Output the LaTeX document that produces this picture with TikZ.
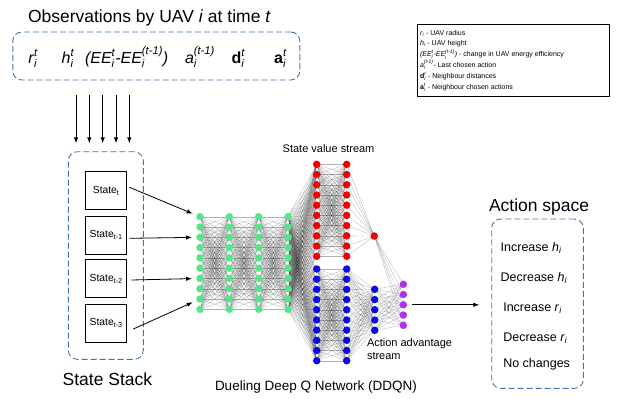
\documentclass[tikz,border=0pt]{standalone}
\usepackage{amsmath}
\usepackage{fontspec}
\setmainfont{Liberation Sans}
\usetikzlibrary{arrows.meta,backgrounds}
\definecolor{ngreen}{RGB}{85,230,140}
\definecolor{nred}{RGB}{240,0,0}
\definecolor{nblue}{RGB}{10,10,230}
\definecolor{npurple}{RGB}{170,50,240}
\definecolor{boxblue}{RGB}{70,115,170}
\newcommand{\SupSub}[2]{\ensuremath{^{\text{\itshape #1}}_{\text{\itshape #2}}}}
\newcommand{\SubI}[1]{\ensuremath{_{\text{\itshape #1}}}}
\begin{document}
\begin{tikzpicture}[x=1pt,y=-1pt,
  nn/.style={circle,inner sep=0pt,minimum size=7.5pt,draw=none},
  gnode/.style={nn,fill=ngreen},
  rnode/.style={nn,fill=nred},
  bnode/.style={nn,fill=nblue},
  pnode/.style={nn,fill=npurple},
  nnlink/.style={line width=0.3pt,draw=black,draw opacity=0.3},
  dashbox/.style={draw=boxblue,dash pattern=on 6pt off 3pt,line width=0.9pt,rounded corners=9pt,inner sep=0pt},
  txt/.style={inner sep=0pt,outer sep=0pt},
  arr/.style={-{Latex[length=6pt,width=4.5pt]},line width=0.8pt},
  statebox/.style={draw=black,line width=0.7pt,minimum width=41pt,minimum height=38pt,inner sep=0pt,font=\fontsize{10.3}{12}\selectfont},
  big/.style={txt,font=\fontsize{17.5}{21}\selectfont},
  formula/.style={txt,font=\fontsize{16}{19}\selectfont},
  legendtxt/.style={txt,font=\fontsize{7}{8.5}\selectfont,anchor=base west},
  acttxt/.style={txt,font=\fontsize{12.5}{15}\selectfont,anchor=base west},
  smalltxt/.style={txt,font=\fontsize{11}{13}\selectfont,anchor=base west}]
\useasboundingbox (0,0) rectangle (624,399);

% ---- observation box ----
\node[big,anchor=base west] (ttl) at (28,22.7) {Observations by UAV \textit{i} at time \textit{t}};
\node[dashbox,minimum width=287pt,minimum height=48pt] (obs) at (156.3,56) {};
\node[formula,anchor=base west] (o1) at (28.3,63) {\textit{r}\SupSub{t}{i}};
\node[formula,anchor=base west] (o2) at (61.7,63) {\textit{h}\SupSub{t}{i}};
\node[formula,anchor=base west] (o3) at (85,63) {\textit{(EE\SupSub{t}{i}-EE\SupSub{(t-1)}{i})}};
\node[formula,anchor=base west] (o4) at (185,63) {\textit{a}\SupSub{(t-1)}{i}};
\node[formula,anchor=base west] (o5) at (231.7,63) {\textbf{d}\SupSub{t}{i}};
\node[formula,anchor=base west] (o6) at (274,63) {\textbf{a}\SupSub{t}{i}};

% ---- legend ----
\node[draw=black,line width=0.7pt,minimum width=192pt,minimum height=72.7pt,inner sep=0pt] (leg) at (513.3,60.35) {};
\node[legendtxt] (l1) at (420,35) {\textit{r}\SubI{i} - UAV radius};
\node[legendtxt] (l2) at (420,45.7) {\textit{h}\SubI{i} - UAV height};
\node[legendtxt] (l3) at (420,56.5) {\textit{(EE\SupSub{t}{i}-EE\SupSub{(t-1)}{i})} - change in UAV energy efficiency};
\node[legendtxt] (l4) at (420,67.4) {\textit{a}\SupSub{(t-1)}{i}- Last chosen action};
\node[legendtxt] (l5) at (420,78.3) {\textbf{d}\SupSub{t}{i} - Neighbour distances};
\node[legendtxt] (l6) at (420,89.3) {\textbf{a}\SupSub{t}{i} - Neighbour chosen actions};

% ---- state stack ----
\node[dashbox,minimum width=75pt,minimum height=207.6pt] (stack) at (105.8,255.5) {};
\node[big,anchor=base west] (stl) at (62.7,385) {State Stack};
\node[statebox] (s1) at (106.2,190.8) {State\textsubscript{t}};
\node[statebox] (s2) at (106.2,235) {State\textsubscript{t-1}};
\node[statebox] (s3) at (106.2,278.8) {State\textsubscript{t-2}};
\node[statebox] (s4) at (106.2,323) {State\textsubscript{t-3}};
\foreach \i/\x in {1/76,2/89.3,3/102.7,4/116,5/129.3}{
  \coordinate (t\i) at (\x,95);
  \draw[arr,shorten >=8pt] (t\i) -- (t\i |- stack.north);
}

% ---- network nodes ----
\foreach \c/\x in {1/200,2/229.3,3/258.7,4/288}{
  \foreach \k in {1,...,10}{
    \node[gnode] (g\c-\k) at (\x,{216.7+(\k-1)*10.29}) {};
  }
}
\foreach \c/\x in {1/316.7,2/346.7}{
  \foreach \k in {1,...,10}{
    \node[rnode] (r\c-\k) at (\x,{164.3+(\k-1)*10.22}) {};
    \node[bnode] (b\c-\k) at (\x,{269+(\k-1)*10.19}) {};
  }
}
\node[rnode] (ro) at (374.3,236) {};
\foreach \k in {1,...,5}{
  \node[bnode] (bs-\k) at (374.7,{289.3+(\k-1)*10.25}) {};
  \node[pnode] (p-\k) at (403.3,{284.3+(\k-1)*10.25}) {};
}

\begin{pgfonlayer}{background}
\foreach \a/\b in {1/2,2/3,3/4}{
  \foreach \i in {1,...,10}{
    \foreach \j in {1,...,10}{
      \draw[nnlink] (g\a-\i.center) -- (g\b-\j.center);
    }
  }
}
\foreach \i in {1,...,10}{
  \foreach \j in {1,...,10}{
    \draw[nnlink] (g4-\i.center) -- (r1-\j.center);
    \draw[nnlink] (g4-\i.center) -- (b1-\j.center);
    \draw[nnlink] (r1-\i.center) -- (r2-\j.center);
    \draw[nnlink] (b1-\i.center) -- (b2-\j.center);
  }
  \draw[nnlink] (r2-\i.center) -- (ro.center);
  \foreach \j in {1,...,5}{
    \draw[nnlink] (b2-\i.center) -- (bs-\j.center);
  }
}
\foreach \i in {1,...,5}{
  \draw[nnlink] (ro.center) -- (p-\i.center);
  \foreach \j in {1,...,5}{
    \draw[nnlink] (bs-\i.center) -- (p-\j.center);
  }
}
\end{pgfonlayer}

% ---- state -> input arrows ----
\draw[arr,shorten >=4pt] ([shift={(2.3pt,3.5pt)}]s1.east) -- (g1-1);
\draw[arr,shorten >=4pt] ([shift={(2.3pt,-3.3pt)}]s2.east) -- (g1-3);
\draw[arr,shorten >=4pt] ([shift={(4.3pt,-1.2pt)}]s3.east) -- (g1-7);
\draw[arr,shorten >=4pt] ([shift={(6.3pt,-6pt)}]s4.east) -- (g1-9);

% ---- network labels ----
\node[smalltxt] (svs) at (282.7,152.7) {State value stream};
\node[smalltxt] (aas1) at (367,346.7) {Action advantage};
\node[smalltxt] (aas2) at (367,359) {stream};
\node[txt,font=\fontsize{13.5}{16}\selectfont,anchor=base west] (ddqn) at (215,390.7) {Dueling Deep Q Network (DDQN)};

% ---- action space ----
\node[big,anchor=base west] (asl) at (489,211.7) {Action space};
\node[dashbox,minimum width=91.6pt,minimum height=169.3pt] (act) at (537.5,303.65) {};
\node[acttxt] (a1) at (500.7,251) {Increase \textit{h}\SubI{i}};
\node[acttxt] (a2) at (500.7,281) {Decrease \textit{h}\SubI{i}};
\node[acttxt] (a3) at (503.3,311.7) {Increase \textit{r}\SubI{i}};
\node[acttxt] (a4) at (503.3,341) {Decrease \textit{r}\SubI{i}};
\node[acttxt] (a5) at (503.3,367.3) {No changes};
\draw[arr,shorten <=5pt,shorten >=12pt] (p-3) -- (p-3 -| act.west);
\end{tikzpicture}
\end{document}
